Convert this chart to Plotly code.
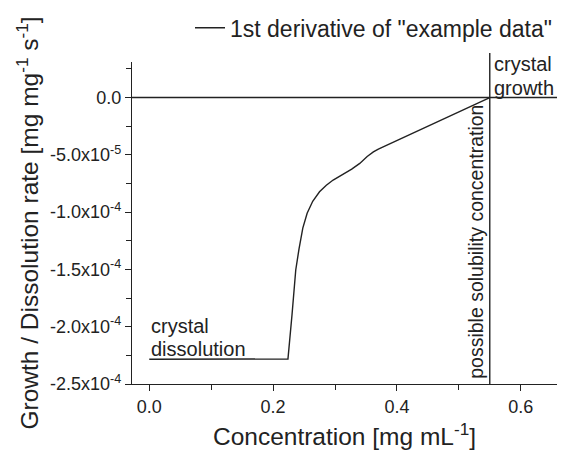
import plotly.graph_objects as go

# Concentration [mg mL^-1] and first derivative (growth / dissolution rate)
conc = [0.0, 0.224, 0.2305, 0.2366, 0.2419, 0.248, 0.255, 0.264, 0.275,
        0.286, 0.297, 0.312, 0.327, 0.340, 0.352, 0.362, 0.370, 0.55]
rate = [-2.284e-4, -2.282e-4, -1.90e-4, -1.505e-4, -1.32e-4, -1.14e-4,
        -1.01e-4, -9.05e-5, -8.22e-5, -7.65e-5, -7.2e-5, -6.75e-5,
        -6.25e-5, -5.75e-5, -5.15e-5, -4.75e-5, -4.5e-5, 0.0]

series_name = '1st derivative of "example data"'
solubility_conc = 0.55

x_ticks = [0.0, 0.2, 0.4, 0.6]
x_ticktext = ["0.0", "0.2", "0.4", "0.6"]
y_ticks = [0.0, -5e-5, -1e-4, -1.5e-4, -2e-4, -2.5e-4]
y_ticktext = ["0.0", "-5.0x10<sup>-5</sup>", "-1.0x10<sup>-4</sup>",
              "-1.5x10<sup>-4</sup>", "-2.0x10<sup>-4</sup>", "-2.5x10<sup>-4</sup>"]

INK = "#222222"
FONT = "Liberation Sans, Arial, sans-serif"
NOTE = dict(family=FONT, size=20, color=INK)

fig = go.Figure()
fig.add_trace(go.Scatter(
    x=conc, y=rate, mode="lines", name=series_name,
    line=dict(color=INK, width=1.4), showlegend=True,
))

# zero line and solubility marker
fig.add_shape(type="line", xref="paper", yref="y", x0=0, x1=1, y0=0, y1=0,
              line=dict(color=INK, width=1.4))
fig.add_shape(type="line", xref="x", yref="paper", x0=solubility_conc, x1=solubility_conc,
              y0=0, y1=1.028, line=dict(color=INK, width=1.4))

# region labels
fig.add_annotation(x=0.0, y=-1.994e-4, xref="x", yref="y", xanchor="left", yanchor="middle",
                   text="crystal", showarrow=False, font=NOTE)
fig.add_annotation(x=0.0, y=-2.195e-4, xref="x", yref="y", xanchor="left", yanchor="middle",
                   text="dissolution", showarrow=False, font=NOTE)
fig.add_annotation(x=solubility_conc, y=0.9938, xref="x", yref="paper", xanchor="left",
                   yanchor="middle", xshift=2, text="crystal", showarrow=False, font=NOTE)
fig.add_annotation(x=solubility_conc, y=0.9193, xref="x", yref="paper", xanchor="left",
                   yanchor="middle", xshift=2, text="growth", showarrow=False, font=NOTE)
fig.add_annotation(x=solubility_conc, y=0.0, xref="x", yref="paper", xanchor="right", yanchor="bottom",
                   xshift=-1, yshift=3, textangle=-90,
                   text="possible solubility concentration", showarrow=False,
                   font=dict(family=FONT, size=19.5, color=INK))

fig.update_layout(
    width=563, height=457,
    margin=dict(l=132, r=6, t=62, b=73),
    paper_bgcolor="white", plot_bgcolor="white",
    font=dict(family=FONT, color=INK),
    legend=dict(x=1.0, xanchor="right", y=1.106, yanchor="middle",
                font=dict(family=FONT, size=23, color=INK),
                bgcolor="rgba(0,0,0,0)", borderwidth=0),
    xaxis=dict(
        range=[-0.0279, 0.6586], showgrid=False, zeroline=False,
        showline=True, linecolor=INK, linewidth=1.4,
        ticks="outside", ticklen=6, tickwidth=1.2, tickcolor=INK,
        tickvals=x_ticks, ticktext=x_ticktext,
        tickfont=dict(family=FONT, size=18, color=INK),
        minor=dict(ticks="outside", ticklen=5, tickwidth=1.2, tickcolor=INK, dtick=0.1, tick0=0),
        title=dict(text="Concentration [mg mL<sup>-1</sup>]", standoff=12,
                   font=dict(family=FONT, size=24.5, color=INK)),
    ),
    yaxis=dict(
        range=[-2.5e-4, 3.1e-5], showgrid=False, zeroline=False,
        showline=True, linecolor=INK, linewidth=1.4,
        ticks="outside", ticklen=6, tickwidth=1.2, tickcolor=INK,
        tickvals=y_ticks, ticktext=y_ticktext,
        tickfont=dict(family=FONT, size=18, color=INK),
        minor=dict(ticks="outside", ticklen=5, tickwidth=1.2, tickcolor=INK, dtick=2.5e-5, tick0=0),
        title=dict(text="Growth / Dissolution rate [mg mg<sup>-1</sup> s<sup>-1</sup>]", standoff=4,
                   font=dict(family=FONT, size=24.5, color=INK)),
    ),
)

fig.write_html("out.html")
